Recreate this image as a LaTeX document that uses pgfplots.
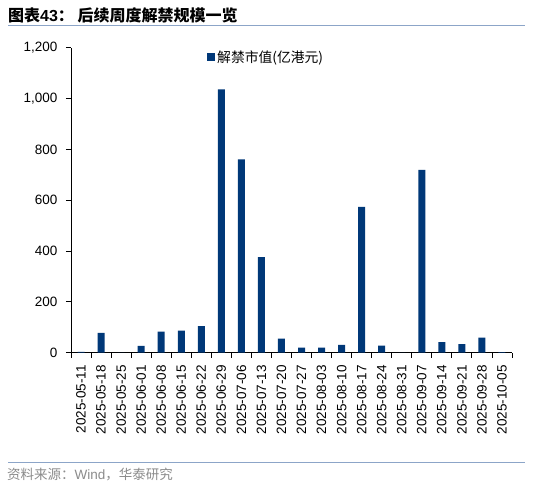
\documentclass[border=0pt]{standalone}
\usepackage{fontspec}
\setmainfont{Liberation Sans}
\newfontfamily\cjk{Noto Sans CJK SC}
\usepackage{pgfplots}
\pgfplotsset{compat=1.18}
\definecolor{navy}{RGB}{0,56,120}
\definecolor{rulec}{RGB}{140,165,200}
\definecolor{srcgray}{RGB}{140,140,140}
\begin{document}
\begin{tikzpicture}
\path[use as bounding box, fill=white] (0,0) rectangle (535pt,487pt);
\node[anchor=west, inner sep=0pt] at (8pt,472pt) {\fontsize{16}{19}\selectfont\bfseries{\cjk 图表}43{\cjk ：\ 后续周度解禁规模一览}};
\draw[rulec, line width=1pt] (8pt,461.5pt) -- (525pt,461.5pt);
\draw[rulec, line width=1pt] (8pt,24.7pt) -- (525pt,24.7pt);
\node[anchor=west, inner sep=0pt, text=srcgray] at (7pt,12pt) {\fontsize{13.5}{15}\selectfont{\cjk 资料来源：}Wind{\cjk ，华泰研究}};
\begin{axis}[
  at={(71pt,134.3pt)}, anchor=south west,
  scale only axis, width=441pt, height=305pt,
  xmin=-0.5, xmax=21.5, ymin=0, ymax=1200,
  axis x line*=bottom, axis y line*=left,
  axis line style={black, line width=0.9pt, -},
  tick align=outside,
  major tick length=5pt,
  every tick/.style={black, line width=0.9pt},
  ytick={0,200,...,1200},
  /pgf/number format/assume math mode=true,
  /pgf/number format/1000 sep={,},
  yticklabel style={font=\fontsize{13.5}{16}\selectfont, xshift=-5pt},
  xtick={0,...,21},
  xtick style={draw=none},
  xticklabels={2025-05-11,2025-05-18,2025-05-25,2025-06-01,2025-06-08,2025-06-15,2025-06-22,2025-06-29,2025-07-06,2025-07-13,2025-07-20,2025-07-27,2025-08-03,2025-08-10,2025-08-17,2025-08-24,2025-08-31,2025-09-07,2025-09-14,2025-09-21,2025-09-28,2025-10-05},
  xticklabel style={rotate=90, anchor=east, xshift=-4pt, font=\fontsize{13.5}{16}\selectfont},
  extra x ticks={-0.5,0.5,...,21.5},
  extra x tick labels={},
  extra x tick style={xtick style={draw=black, line width=0.9pt}, major tick length=5pt},
  legend style={draw=none, fill=none, at={(0.3084,0.9695)}, anchor=west, inner sep=0pt, font=\cjk\fontsize{13.8}{15}\selectfont},
  legend image code/.code={\fill[navy] (0pt,-4pt) rectangle (8pt,4pt);},
  clip=false,
]
\addplot[ybar, bar width=7pt, fill=navy, draw=none] coordinates {
(0,3) (1,78) (2,0) (3,27) (4,83) (5,87) (6,105) (7,1036) (8,761) (9,376) (10,55)
(11,20) (12,20) (13,31) (14,574) (15,28) (16,0) (17,719) (18,42) (19,34) (20,59) (21,2)
};
\addlegendentry{解禁市值(亿港元)}
\end{axis}
\end{tikzpicture}
\end{document}
